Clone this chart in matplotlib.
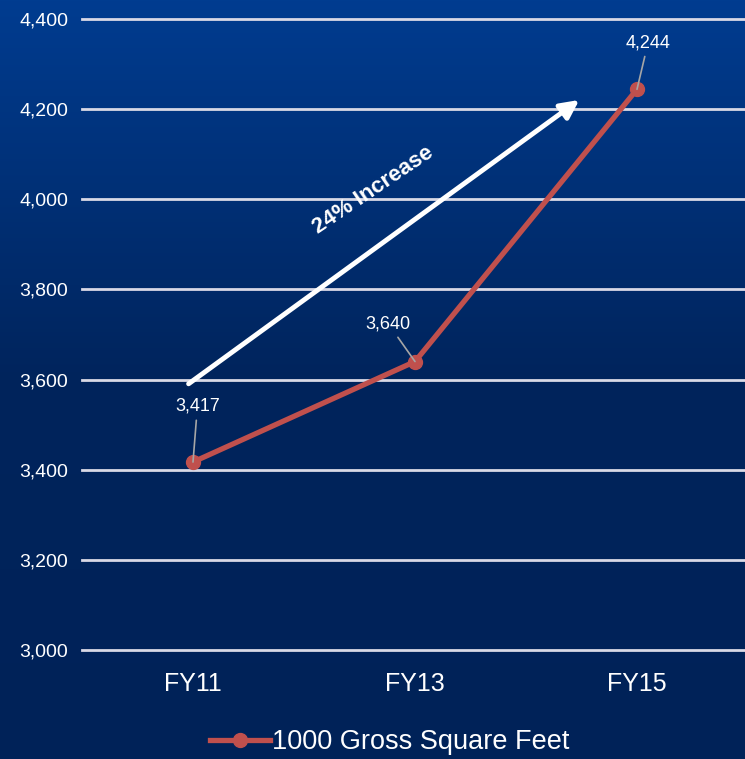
import numpy as np
import matplotlib
matplotlib.use('Agg')
import matplotlib.pyplot as plt
from matplotlib.colors import LinearSegmentedColormap

years = ['FY11', 'FY13', 'FY15']
gross_sq_feet = [3417, 3640, 4244]
point_labels = ['3,417', '3,640', '4,244']
y_ticks = [3000, 3200, 3400, 3600, 3800, 4000, 4200, 4400]

plt.rcParams['font.family'] = ['Liberation Sans Narrow', 'Liberation Sans', 'DejaVu Sans']

fig = plt.figure(figsize=(7.45, 7.59), dpi=100)

# gradient background
bg = fig.add_axes([0, 0, 1, 1])
grad = np.linspace(0, 1, 256).reshape(-1, 1)
cmap = LinearSegmentedColormap.from_list('bg', ['#003c90', '#00245c', '#002258'])
bg.imshow(grad, aspect='auto', cmap=cmap, extent=[0, 1, 0, 1], origin='upper')
bg.axis('off')

W, H = 745, 759
ax = fig.add_axes([82 / W, (H - 650) / H, 666 / W, 631 / H])
ax.patch.set_alpha(0)
x = np.arange(len(years))
ax.set_xlim(-0.5, 2.5)
ax.set_ylim(3000, 4400)
ax.set_yticks(y_ticks)
ax.set_yticklabels([f'{v:,}' for v in y_ticks], color='white', fontsize=14)
ax.set_xticks(x)
ax.set_xticklabels(years, color='white', fontsize=18)
ax.tick_params(length=0, pad=10)
ax.tick_params(axis='x', pad=16)
for s in ax.spines.values():
    s.set_visible(False)
ax.grid(axis='y', color='#d9d9e6', linewidth=2)
for gl in ax.get_ygridlines():
    gl.set_clip_on(False)
ax.set_axisbelow(True)

ax.plot(x, gross_sq_feet, color='#c0504d', linewidth=3.8, marker='o',
        markersize=10, label='1000 Gross Square Feet', zorder=3)

# data labels with leader lines
offsets = [(0.02, 105), (-0.12, 65), (0.05, 85)]
for xi, yi, lab, (dx, dy) in zip(x, gross_sq_feet, point_labels, offsets):
    ax.annotate(lab, xy=(xi, yi), xytext=(xi + dx, yi + dy), color='white',
                fontsize=13, ha='center', va='bottom',
                arrowprops=dict(arrowstyle='-', color='#a6a6a6', lw=1.2,
                                shrinkA=2, shrinkB=0), zorder=4)

# increase arrow
ax.annotate('', xy=(1.75, 4224), xytext=(-0.03, 3587),
            arrowprops=dict(arrowstyle='-|>,head_length=1.1,head_width=0.55',
                            color='white', lw=3.5), zorder=4)
ax.text(0.81, 4021, '24% Increase', color='white', fontsize=16, fontweight='bold',
        rotation=34, ha='center', va='center', rotation_mode='anchor')

leg = fig.legend(loc='center', bbox_to_anchor=(390 / W, (H - 742) / H), frameon=False,
                 fontsize=19.5, handlelength=2.2, handletextpad=0.1)
for t in leg.get_texts():
    t.set_color('white')

fig.savefig('out.png', dpi=100)
